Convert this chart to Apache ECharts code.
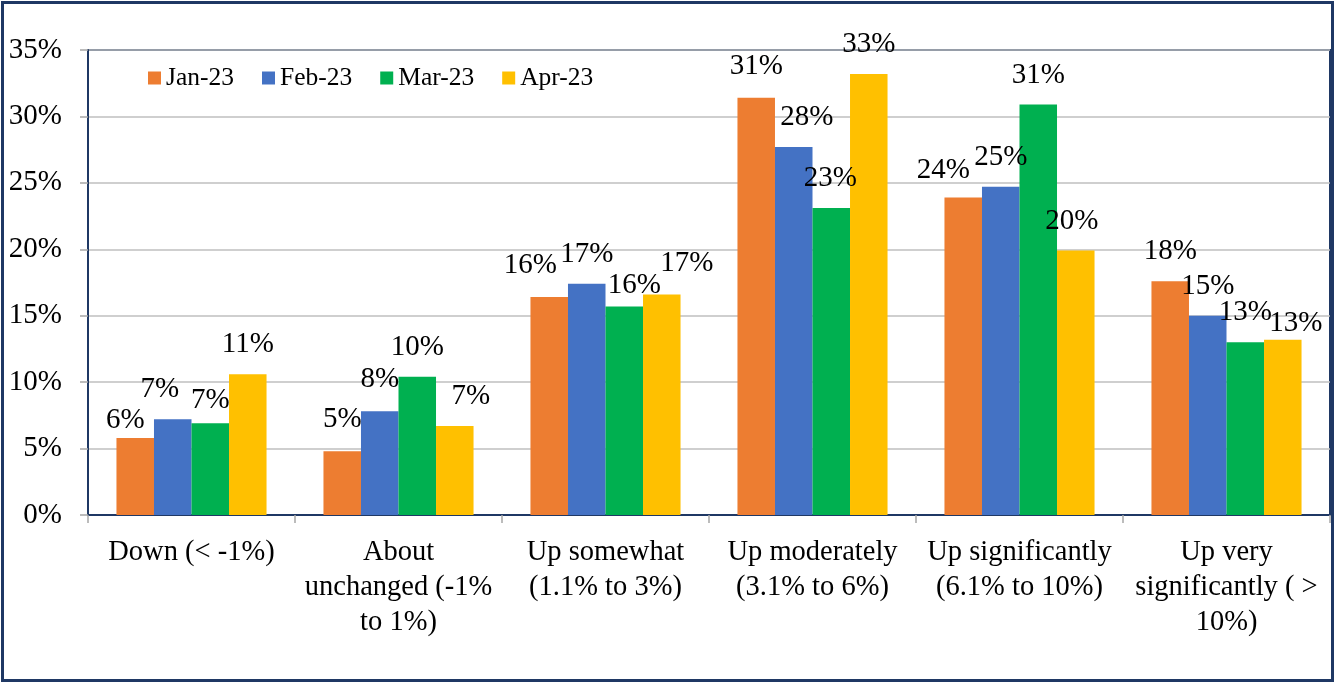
<!DOCTYPE html>
<html>
<head>
<meta charset="utf-8">
<script src="https://cdn.jsdelivr.net/npm/echarts@6/dist/echarts.min.js"></script>
<style>
html,body{margin:0;padding:0;background:#fff;}
#chart{width:1337px;height:683px;}
</style>
</head>
<body>
<div id="chart"></div>
<script>
var categories = [
  "Down (< -1%)",
  "About\nunchanged (-1%\nto 1%)",
  "Up somewhat\n(1.1% to 3%)",
  "Up moderately\n(3.1% to 6%)",
  "Up significantly\n(6.1% to 10%)",
  "Up very\nsignificantly ( >\n10%)"
];
var seriesNames = ["Jan-23", "Feb-23", "Mar-23", "Apr-23"];
var jan23 = [5.8, 4.8, 16.4, 31.4, 23.9, 17.6];
var feb23 = [7.2, 7.8, 17.4, 27.7, 24.7, 15.0];
var mar23 = [6.9, 10.4, 15.7, 23.1, 30.9, 13.0];
var apr23 = [10.6, 6.7, 16.6, 33.2, 19.9, 13.2];
var yTicks = [0, 5, 10, 15, 20, 25, 30, 35];

var colors = ["#ED7D31", "#4472C4", "#00B050", "#FFC000"];
var FONT = "'Liberation Serif', 'Times New Roman', serif";
var allData = [jan23, feb23, mar23, apr23];
// manual nudges [dx, dy] of the value labels, as placed in the original
var labelNudges = [
  [[-10, 12], [0, -2], [-19, -2], [0, -2], [-20, 2], [0, 0]],
  [[-13, 0], [0, -2], [0, 0], [13, 0], [0, 0], [0, 0]],
  [[0, 7], [0, 0], [10, 8], [-1, 0], [0, 0], [0, 0]],
  [[0, 0], [16, 0], [25, -2], [0, 0], [-4, 0], [13, 13]]
];

var chart = echarts.init(document.getElementById('chart'));
var series = seriesNames.map(function (name, i) {
  return {
    name: name,
    type: 'bar',
    data: allData[i].map(function (v, j) {
      return { value: v, label: { offset: labelNudges[i][j] } };
    }),
    barGap: '0%',
    barCategoryGap: '27.5%',
    itemStyle: { color: colors[i] },
    label: {
      show: true,
      position: 'top',
      distance: 15,
      color: '#000',
      fontFamily: FONT,
      fontSize: 29,
      formatter: function (p) { return Math.round(p.value) + '%'; }
    }
  };
});

chart.setOption({
  animation: false,
  textStyle: { fontFamily: FONT },
  grid: { left: 88, right: 7, top: 50, bottom: 168, show: true, borderColor: '#1F3864', borderWidth: 2, backgroundColor: 'transparent' },
  legend: {
    data: seriesNames,
    left: 143,
    top: 60,
    icon: 'rect',
    itemWidth: 13,
    itemHeight: 13,
    itemGap: 28,
    textStyle: { fontFamily: FONT, fontSize: 25.5, color: '#000' }
  },
  xAxis: {
    type: 'category',
    data: categories,
    axisLine: { lineStyle: { color: '#1F3864', width: 2 } },
    axisTick: { show: true, length: 8, lineStyle: { color: '#A6A6A6', width: 1.5 } },
    axisLabel: { color: '#000', fontFamily: FONT, fontSize: 28.5, lineHeight: 35, margin: 20, interval: 0 }
  },
  yAxis: {
    type: 'value',
    min: yTicks[0],
    max: yTicks[yTicks.length - 1],
    interval: 5,
    axisLine: { show: true, lineStyle: { color: '#1F3864', width: 2 } },
    axisTick: { show: true, length: 8, lineStyle: { color: '#A6A6A6', width: 1.5 } },
    splitLine: { lineStyle: { color: '#BFBFBF', width: 1.5 } },
    axisLabel: { color: '#000', fontFamily: FONT, fontSize: 29, margin: 26, formatter: '{value}%' }
  },
  graphic: [{
    type: 'rect',
    shape: { x: 2.5, y: 2.5, width: 1330, height: 678 },
    style: { fill: 'none', stroke: '#1F3864', lineWidth: 3 },
    silent: true,
    z: 100
  }],
  series: series
});
</script>
</body>
</html>
